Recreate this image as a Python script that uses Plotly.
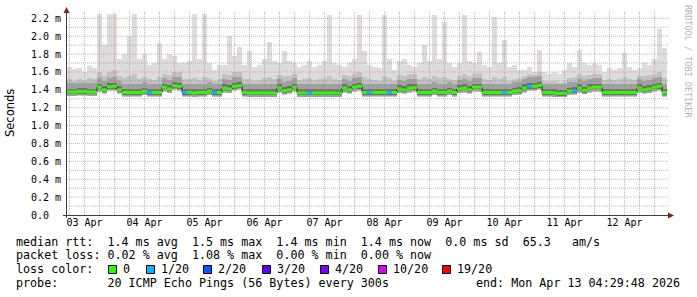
import plotly.graph_objects as go
import pandas as pd
import numpy as np

# ---------------- data (2 h bins, values in ms) ----------------
bin_start = "2026-04-03 05:00"
n_bins = 120

median_ms = [
    1.375, 1.375, 1.38, 1.38, 1.375, 1.375, 1.43, 1.40, 1.435, 1.44,
    1.40, 1.37, 1.37, 1.37, 1.37, 1.385, 1.37, 1.37, 1.37, 1.43,
    1.41, 1.445, 1.44, 1.37, 1.37, 1.365, 1.37, 1.37, 1.385, 1.37,
    1.37, 1.42, 1.41, 1.44, 1.445, 1.37, 1.365, 1.365, 1.365, 1.365,
    1.365, 1.365, 1.42, 1.39, 1.40, 1.43, 1.365, 1.365, 1.365, 1.365,
    1.365, 1.365, 1.365, 1.365, 1.365, 1.42, 1.40, 1.43, 1.44, 1.37,
    1.37, 1.37, 1.37, 1.37, 1.37, 1.37, 1.41, 1.40, 1.42, 1.425,
    1.37, 1.37, 1.37, 1.385, 1.37, 1.37, 1.385, 1.37, 1.41, 1.42,
    1.40, 1.43, 1.43, 1.37, 1.37, 1.37, 1.37, 1.37, 1.37, 1.385,
    1.39, 1.42, 1.44, 1.44, 1.45, 1.37, 1.37, 1.365, 1.36, 1.36,
    1.385, 1.39, 1.42, 1.395, 1.42, 1.43, 1.43, 1.37, 1.37, 1.37,
    1.37, 1.37, 1.37, 1.37, 1.42, 1.40, 1.41, 1.43, 1.44, 1.37,
]

loss_count = [0] * 120
for i in [16, 23, 29, 48, 60, 64, 87, 92, 101]:
    loss_count[i] = 1

smoke_max = [
    1.66, 1.63, 1.64, 1.60, 1.67, 1.64, 2.25, 1.90, 2.25, 2.25,
    1.75, 1.80, 2.00, 2.25, 1.75, 1.80, 1.68, 1.70, 1.92, 1.75,
    1.80, 1.78, 1.70, 1.70, 1.72, 2.25, 1.75, 2.25, 1.70, 1.62,
    1.68, 1.68, 2.00, 1.78, 1.88, 1.68, 1.84, 1.66, 1.68, 1.75,
    1.93, 1.72, 1.70, 1.84, 1.72, 1.70, 1.65, 1.68, 1.72, 1.66,
    1.68, 1.72, 2.24, 1.70, 1.68, 1.66, 1.70, 1.75, 2.24, 1.84,
    1.68, 1.66, 1.64, 2.24, 1.75, 1.62, 1.72, 1.74, 1.68, 1.66,
    1.70, 1.90, 1.72, 2.24, 1.75, 2.16, 1.70, 1.66, 1.70, 2.24,
    1.72, 1.70, 1.82, 1.68, 1.66, 2.22, 1.70, 1.96, 1.65, 1.68,
    1.62, 1.62, 1.66, 1.60, 1.85, 1.60, 1.58, 1.60, 1.58, 1.62,
    1.70, 1.66, 1.85, 1.70, 1.68, 1.70, 1.68, 1.60, 1.64, 1.62,
    1.64, 1.81, 1.66, 1.62, 1.64, 1.70, 1.68, 1.75, 2.08, 1.87,
]

smoke_mid = [
    1.52, 1.50, 1.52, 1.50, 1.53, 1.52, 1.60, 1.56, 1.60, 1.62,
    1.56, 1.53, 1.55, 1.58, 1.52, 1.54, 1.52, 1.51, 1.54, 1.58,
    1.57, 1.60, 1.60, 1.52, 1.52, 1.53, 1.51, 1.54, 1.53, 1.50,
    1.52, 1.58, 1.57, 1.60, 1.60, 1.52, 1.52, 1.50, 1.51, 1.53,
    1.54, 1.52, 1.57, 1.55, 1.56, 1.58, 1.51, 1.52, 1.53, 1.51,
    1.52, 1.53, 1.55, 1.52, 1.51, 1.57, 1.56, 1.58, 1.60, 1.54,
    1.52, 1.51, 1.50, 1.55, 1.53, 1.50, 1.57, 1.56, 1.58, 1.58,
    1.52, 1.54, 1.52, 1.55, 1.53, 1.54, 1.52, 1.51, 1.56, 1.58,
    1.56, 1.58, 1.59, 1.52, 1.51, 1.54, 1.52, 1.54, 1.50, 1.52,
    1.53, 1.56, 1.58, 1.57, 1.60, 1.50, 1.49, 1.50, 1.48, 1.49,
    1.53, 1.54, 1.58, 1.55, 1.57, 1.58, 1.58, 1.51, 1.52, 1.51,
    1.52, 1.54, 1.52, 1.51, 1.56, 1.56, 1.57, 1.58, 1.60, 1.53,
]

smoke_min = [
    1.33, 1.33, 1.335, 1.335, 1.33, 1.33, 1.38, 1.355, 1.385, 1.39,
    1.35, 1.325, 1.325, 1.325, 1.325, 1.34, 1.325, 1.325, 1.325, 1.38,
    1.36, 1.395, 1.39, 1.325, 1.325, 1.32, 1.325, 1.325, 1.34, 1.325,
    1.325, 1.37, 1.36, 1.39, 1.395, 1.325, 1.32, 1.32, 1.32, 1.32,
    1.32, 1.32, 1.37, 1.345, 1.355, 1.38, 1.32, 1.32, 1.32, 1.32,
    1.32, 1.32, 1.32, 1.32, 1.32, 1.37, 1.355, 1.38, 1.39, 1.325,
    1.325, 1.325, 1.325, 1.325, 1.325, 1.325, 1.36, 1.355, 1.37, 1.375,
    1.325, 1.325, 1.325, 1.34, 1.325, 1.325, 1.34, 1.325, 1.36, 1.37,
    1.355, 1.38, 1.38, 1.325, 1.325, 1.325, 1.325, 1.325, 1.325, 1.34,
    1.345, 1.37, 1.39, 1.39, 1.40, 1.325, 1.325, 1.32, 1.315, 1.315,
    1.34, 1.345, 1.37, 1.35, 1.37, 1.38, 1.38, 1.325, 1.325, 1.325,
    1.325, 1.325, 1.325, 1.325, 1.37, 1.355, 1.36, 1.38, 1.39, 1.325,
]

day_labels = ["03 Apr", "04 Apr", "05 Apr", "06 Apr", "07 Apr",
              "08 Apr", "09 Apr", "10 Apr", "11 Apr", "12 Apr"]
day_label_pos = ["2026-04-%02d 12:00" % d for d in range(3, 13)]
y_tick_vals = [0.0, 0.2, 0.4, 0.6, 0.8, 1.0, 1.2, 1.4, 1.6, 1.8, 2.0, 2.2]
y_tick_text = ["0.0\u00a0\u00a0", "0.2 m", "0.4 m", "0.6 m", "0.8 m", "1.0 m",
               "1.2 m", "1.4 m", "1.6 m", "1.8 m", "2.0 m", "2.2 m"]

loss_levels = [0, 1, 2, 3, 4, 10, 19]
loss_labels = ["0", "1/20", "2/20", "3/20", "4/20", "10/20", "19/20"]
loss_colors = ["#26ff00", "#00b8ff", "#0059ff", "#5e00ff", "#7e00ff", "#dd00ff", "#ff0000"]

stats_line1 = "median rtt:  1.4 ms avg  1.5 ms max  1.4 ms min  1.4 ms now  0.0 ms sd  65.3   am/s"
stats_line2 = "packet loss: 0.02 % avg  1.08 % max  0.00 % min  0.00 % now"
stats_line3 = "loss color:"
stats_line4 = "probe:       20 ICMP Echo Pings (56 Bytes) every 300s"
end_text = "end: Mon Apr 13 04:29:48 2026"
watermark = "RRDTOOL / TOBI OETIKER"
y_title = "Seconds"

# ---------------- geometry ----------------
W, H = 697, 297
L, R, T, B = 67, 29, 10, 82
PW, PH = W - L - R, H - T - B
X_RANGE = ["2026-04-03 05:00", "2026-04-13 05:24"]   # 60 px per day
Y_MAX = 2.293


def px(x):
    return (x - L) / PW


def py(y):
    return (H - B - y) / PH


MONO = "DejaVu Sans Mono"

starts = pd.date_range(bin_start, periods=n_bins, freq="2h")
step = pd.Timedelta(hours=2)
centers = starts + step / 2
bw = 2 * 3600 * 1000
med = np.array(median_ms)
lo = np.array(smoke_min)

fig = go.Figure()
# smoke layers, outermost first
fig.add_trace(go.Bar(x=centers, y=np.array(smoke_max) - lo, base=lo, width=bw,
                     marker=dict(color="#dcdcdc", line_width=0)))
fig.add_trace(go.Bar(x=centers, y=np.array(smoke_mid) - lo, base=lo, width=bw,
                     marker=dict(color="#c2c2c2", line_width=0)))
# dense core of the smoke around the median
fig.add_trace(go.Bar(x=centers, y=[0.14] * n_bins, base=med - 0.04, width=bw,
                     marker=dict(color="#a0a0a0", line_width=0)))
fig.add_trace(go.Bar(x=centers, y=[0.065] * n_bins, base=med - 0.025, width=bw,
                     marker=dict(color="#6e6e6e", line_width=0)))

edges = list(starts) + [starts[-1] + step]
med_ext = list(med) + [med[-1]]
fig.add_trace(go.Scatter(x=edges, y=med_ext, mode="lines",
                         line=dict(color="#1a1a1a", width=1, shape="hv")))

for lvl, col in zip(loss_levels, loss_colors):
    xs, ys = [], []
    for i in range(n_bins):
        if loss_count[i] == lvl:
            xs += [starts[i], starts[i] + step, None]
            ys += [med[i], med[i], None]
    if xs:
        fig.add_trace(go.Scatter(x=xs, y=ys, mode="lines",
                                 line=dict(color=col, width=3)))

MAJ_V = "rgba(225,110,110,0.6)"
MIN_V = "rgba(140,140,140,0.6)"
MAJ = "rgba(235,130,130,0.7)"
MIN = "rgba(140,140,140,0.6)"
shapes = []
# grid (drawn above the smoke like rrdtool)
for t in pd.date_range("2026-04-03 06:00", "2026-04-13 00:00", freq="6h"):
    major = t.hour == 0
    shapes.append(dict(type="line", xref="x", yref="paper", x0=t, x1=t, y0=0, y1=py(12),
                       layer="above",
                       line=dict(color=MAJ_V if major else MIN_V, width=1, dash="1px,1px")))
for k in range(1, 23):
    v = k / 10
    major = k % 2 == 0
    shapes.append(dict(type="line", xref="paper", yref="y", x0=0, x1=px(668), y0=v, y1=v,
                       layer="above",
                       line=dict(color=MAJ if major else MIN, width=1, dash="1px,1px")))

# axes with arrows
AX = "#404040"
ARR = "#8b1a1a"
shapes.append(dict(type="line", xref="paper", yref="paper", x0=px(66.5), x1=px(66.5),
                   y0=py(218), y1=py(12), line=dict(color=AX, width=1), layer="above"))
shapes.append(dict(type="line", xref="paper", yref="paper", x0=px(63), x1=px(668),
                   y0=py(215.5), y1=py(215.5), line=dict(color=AX, width=1), layer="above"))
shapes.append(dict(type="path", xref="paper", yref="paper", layer="above",
                   path="M %f %f L %f %f L %f %f Z" % (px(63.5), py(13), px(69.5), py(13), px(66.5), py(7)),
                   fillcolor=ARR, line=dict(color=ARR, width=0)))
shapes.append(dict(type="path", xref="paper", yref="paper", layer="above",
                   path="M %f %f L %f %f L %f %f Z" % (px(668), py(212.5), px(668), py(218.5), px(674), py(215.5)),
                   fillcolor=ARR, line=dict(color=ARR, width=0)))

annotations = []


def txt(s, x, y, anchor="left", size=11.7, color="#000", family=MONO, angle=0):
    annotations.append(dict(text=s.replace(" ", "\u00a0"), xref="paper", yref="paper",
                            x=px(x), y=py(y), xanchor=anchor, yanchor="middle",
                            showarrow=False, textangle=angle, borderpad=0,
                            font=dict(family=family, size=size, color=color)))


txt(stats_line1, 15, 241.5)
txt(stats_line2, 15, 255.3)
txt(stats_line3, 15, 269)
txt(stats_line4, 15, 282.8)
txt(end_text, 681, 282.8, anchor="right")

sq_x = [108, 146, 203, 262, 320, 378, 442]
for sx, lab, col in zip(sq_x, loss_labels, loss_colors):
    shapes.append(dict(type="rect", xref="paper", yref="paper", layer="above",
                       x0=px(sx + 0.5), x1=px(sx + 8.5), y0=py(273.5), y1=py(265.5),
                       fillcolor=col, line=dict(color="#000", width=1)))
    txt(lab, sx + 13.5, 269)

txt(y_title, 10, 113, anchor="center", size=11.5, family="DejaVu Sans", angle=-90)
txt(watermark, 688, 61, anchor="center", size=8.5, color="#b4b4b4", angle=90)

fig.update_layout(
    width=W, height=H, margin=dict(l=L, r=R, t=T, b=B, pad=0),
    paper_bgcolor="white", plot_bgcolor="white",
    showlegend=False, barmode="overlay", bargap=0,
    shapes=shapes, annotations=annotations,
    xaxis=dict(type="date", range=X_RANGE, tickvals=day_label_pos, ticktext=day_labels,
               showgrid=False, zeroline=False, showline=False, ticks="",
               tickfont=dict(family=MONO, size=10, color="#000")),
    yaxis=dict(range=[0, Y_MAX], tickvals=y_tick_vals, ticktext=y_tick_text,
               showgrid=False, zeroline=False, showline=False, ticks="",
               ticklabelstandoff=5,
               tickfont=dict(family=MONO, size=10, color="#000")),
)

fig.write_html("out.html")
